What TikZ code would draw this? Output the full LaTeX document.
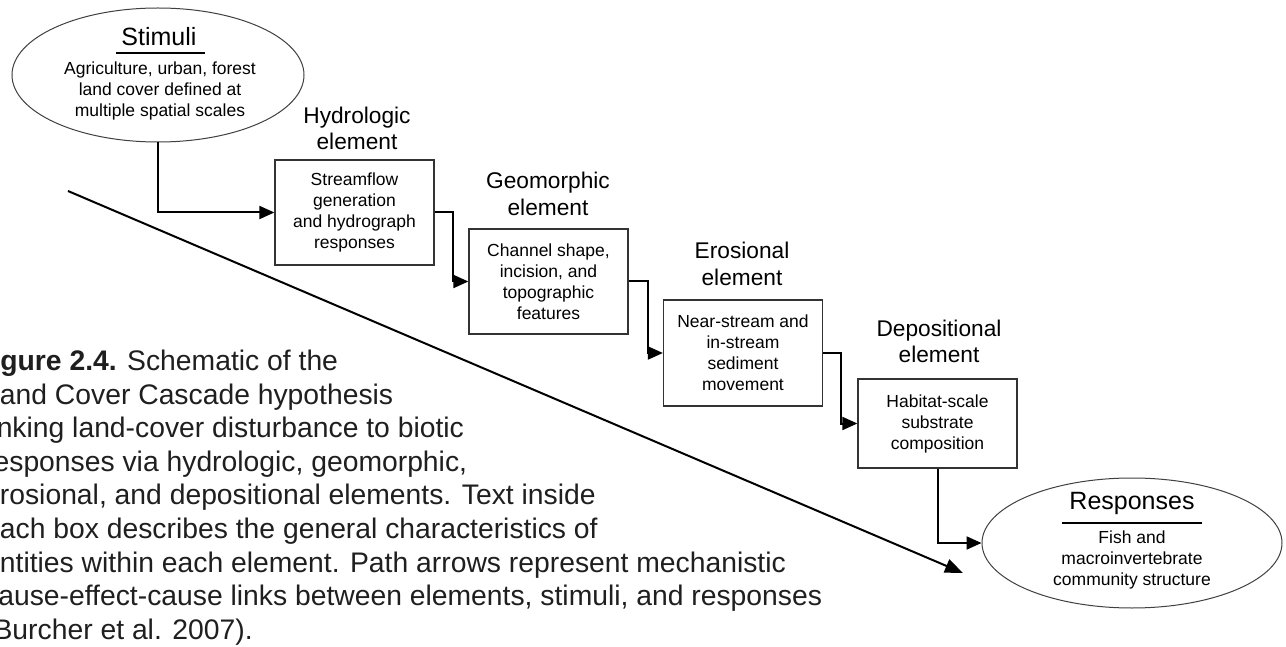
\documentclass[tikz,border=0pt]{standalone}
\usepackage{fontspec}
\setmainfont{Liberation Sans}
\usetikzlibrary{arrows.meta,shapes.geometric,calc}
\begin{document}
\begin{tikzpicture}[x=1pt,y=-1pt,
  elbox/.style={draw=black!80, line width=1.3pt, rectangle, minimum width=159pt, inner sep=0pt, align=center, font=\fontsize{17.5}{21}\selectfont},
  heading/.style={align=center, inner sep=0pt, font=\fontsize{22.7}{26.5}\selectfont},
  ell/.style={draw=black!75, line width=1pt, ellipse, inner sep=0pt},
  ttl/.style={inner sep=0pt, font=\fontsize{25}{30}\selectfont},
  body/.style={align=center, inner sep=0pt, font=\fontsize{17.5}{21}\selectfont},
  conn/.style={line width=2pt, -{Triangle[length=15pt,width=13pt]}},
  uline/.style={line width=2.2pt},
  capline/.style={anchor=base west, inner sep=0pt, font=\fontsize{28.3}{33.6}\selectfont, text=black!88},
]
\useasboundingbox (0,0) rectangle (1286,647);
\clip (0,0) rectangle (1286,647);
\fill[white] (0,0) rectangle (1286,647);

% Stimuli ellipse
\node[ell, minimum width=292pt, minimum height=134pt] (stim) at (158,75) {};
\node[ttl] (stimT) at (159,37) {Stimuli};
\coordinate (su1) at (116,53);
\coordinate (su2) at (205,53);
\draw[uline] (su1) -- (su2);
\node[body] (stimB) at (160,91) {Agriculture, urban, forest\\land cover defined at\\multiple spatial scales};

% Element boxes
\node[elbox, minimum height=105pt] (box1) at (354.5,212.5) {Streamflow\\generation\\and hydrograph\\responses};
\node[elbox, minimum height=105pt] (box2) at (548.5,281.5) {Channel shape,\\incision, and\\topographic\\features};
\node[elbox, minimum height=106pt] (box3) at (743,353) {Near-stream and\\in-stream\\sediment\\movement};
\node[elbox, minimum height=89pt] (box4) at (937.5,423.5) {Habitat-scale\\substrate\\composition};

% Headings
\node[heading] (h1) at (357,128.5) {Hydrologic\\element};
\node[heading] (h2) at (548,194) {Geomorphic\\element};
\node[heading] (h3) at (742,264) {Erosional\\element};
\node[heading] (h4) at (939,341.5) {Depositional\\element};

% Responses ellipse
\node[ell, minimum width=300pt, minimum height=130pt] (resp) at (1132,543) {};
\node[ttl] (respT) at (1132,503) {Responses};
\coordinate (ru1) at (1062,523);
\coordinate (ru2) at (1202,523);
\draw[uline] (ru1) -- (ru2);
\node[body] (respB) at (1132,560) {Fish and\\macroinvertebrate\\community structure};

% Connectors
\draw[conn] (stim.south) |- (box1.west);
\draw[conn] (box1.east) -- ++(18,0) |- (box2.west);
\draw[conn] (box2.east) -- ++(19,0) |- (box3.west);
\draw[conn] (box3.east) -- ++(18,0) |- (box4.west);
\draw[conn] (box4.south) |- (resp.west);

% Diagonal arrow
\coordinate (d1) at (68,191);
\coordinate (d2) at (963,573);
\draw[line width=2pt, -{Triangle[length=18pt,width=14pt]}] (d1) -- (d2);

% Caption (cut off at the left edge)
\node[capline] (c1) at (-25,370.5) {\textbf{Figure 2.4.} Schematic of the};
\node[capline] (c2) at (-16,404.1) {Land Cover Cascade hypothesis};
\node[capline] (c3) at (-16,437.7) {linking land-cover disturbance to biotic};
\node[capline] (c4) at (-16,471.3) {responses via hydrologic, geomorphic,};
\node[capline] (c5) at (-16,504.9) {erosional, and depositional elements. Text inside};
\node[capline] (c6) at (-16,538.5) {each box describes the general characteristics of};
\node[capline] (c7) at (-16,572.1) {entities within each element. Path arrows represent mechanistic};
\node[capline] (c8) at (-16,605.7) {cause-effect-cause links between elements, stimuli, and responses};
\node[capline] (c9) at (-16,639.3) {(Burcher et al. 2007).};
\end{tikzpicture}
\end{document}
